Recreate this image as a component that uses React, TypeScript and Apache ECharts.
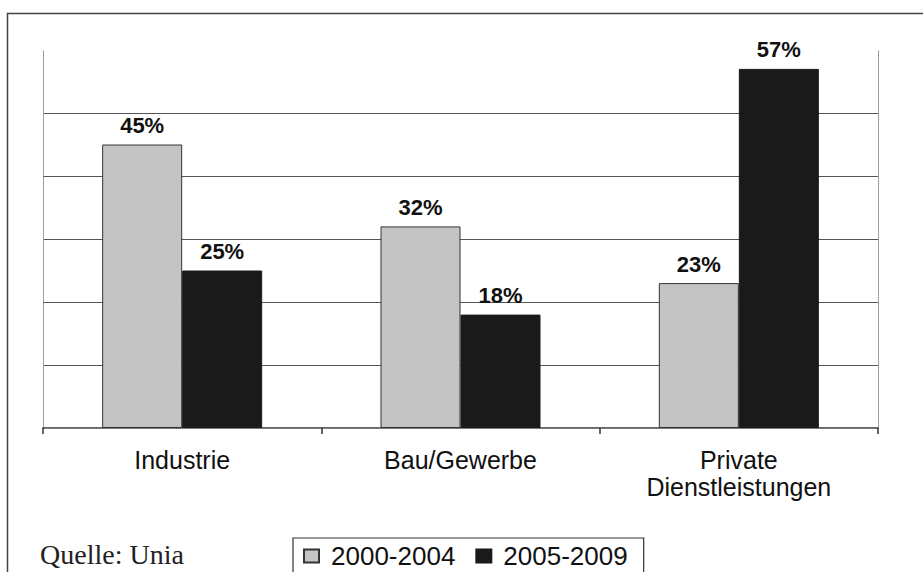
import React, { useEffect, useRef } from "react";
import * as echarts from "echarts";

const categories = ["Industrie", "Bau/Gewerbe", "Private\nDienstleistungen"];
const seriesNames = ["2000-2004", "2005-2009"];
const values2000_2004 = [45, 32, 23];
const values2005_2009 = [25, 18, 57];
const yTicks = [0, 10, 20, 30, 40, 50, 60];

export default function App() {
  const ref = useRef<HTMLDivElement>(null);
  useEffect(() => {
    if (!ref.current) return;
    const chart = echarts.init(ref.current, null, { renderer: "svg" });
    const sans = "'Liberation Sans', Arial, sans-serif";
    const labelStyle = {
      show: true,
      position: "top",
      distance: 8,
      formatter: "{c}%",
      fontFamily: sans,
      fontWeight: "bold",
      fontSize: 22,
      color: "#111",
    };
    chart.setOption({
      animation: false,
      backgroundColor: "#ffffff",
      grid: { left: 43, right: 45, top: 50, bottom: 144 },
      xAxis: [
        {
          type: "category",
          data: categories,
          position: "bottom",
          axisLine: { show: true, lineStyle: { color: "#333", width: 1.5 } },
          axisTick: { show: true, alignWithLabel: false, length: 6, lineStyle: { color: "#333", width: 1.5 } },
          axisLabel: {
            margin: 18,
            fontFamily: sans,
            fontSize: 25,
            lineHeight: 27,
            color: "#111",
            interval: 0,
          },
          splitLine: { show: false },
        },
        {
          type: "category",
          data: categories,
          position: "top",
          axisLine: { show: true, lineStyle: { color: "#888", type: "dotted", width: 1 } },
          axisTick: { show: false },
          axisLabel: { show: false },
          splitLine: { show: false },
        },
      ],
      yAxis: [
        {
          type: "value",
          min: yTicks[0],
          max: yTicks[yTicks.length - 1],
          interval: 10,
          position: "left",
          axisLine: { show: true, lineStyle: { color: "#888", type: "dotted", width: 1 } },
          axisTick: { show: false },
          axisLabel: { show: false },
          splitLine: {
            show: true,
            lineStyle: {
              color: ["#555", "#555", "#555", "#555", "#555", "#555", "rgba(0,0,0,0)"],
              width: 1.2,
            },
          },
        },
        {
          type: "value",
          min: yTicks[0],
          max: yTicks[yTicks.length - 1],
          interval: 10,
          position: "right",
          axisLine: { show: true, lineStyle: { color: "#888", type: "dotted", width: 1 } },
          axisTick: { show: false },
          axisLabel: { show: false },
          splitLine: { show: false },
        },
      ],
      legend: {
        data: seriesNames,
        icon: "rect",
        left: 293,
        top: 538,
        orient: "horizontal",
        padding: [5, 16, 20, 10],
        itemGap: 20,
        itemWidth: 15,
        itemHeight: 13,
        borderColor: "#333",
        borderWidth: 1.2,
        borderRadius: 0,
        textStyle: {
          fontFamily: sans,
          fontSize: 26,
          color: "#111",
          padding: [0, 0, 0, 7],
        },
      },
      graphic: [
        {
          type: "rect",
          shape: { x: 7.5, y: 13.5, width: 940, height: 620 },
          style: { fill: "none", stroke: "#444", lineWidth: 1.5 },
          silent: true,
          z: -1,
        },
        {
          type: "text",
          left: 40,
          top: 540,
          style: {
            text: "Quelle: Unia",
            fontFamily: "'Liberation Serif', 'Times New Roman', serif",
            fontSize: 28,
            fill: "#222",
          },
        },
      ],
      series: [
        {
          name: seriesNames[0],
          type: "bar",
          data: values2000_2004,
          barWidth: 80,
          barGap: "0%",
          itemStyle: { color: "#c4c4c4", borderColor: "#333", borderWidth: 1 },
          label: labelStyle,
        },
        {
          name: seriesNames[1],
          type: "bar",
          data: values2005_2009,
          barWidth: 80,
          barGap: "0%",
          itemStyle: { color: "#1a1a1a", borderColor: "#1a1a1a", borderWidth: 1 },
          label: labelStyle,
        },
      ],
    });
    return () => chart.dispose();
  }, []);
  return (
    <div
      ref={ref}
      style={{ position: "absolute", left: 0, top: 0, width: 923, height: 572 }}
    />
  );
}
